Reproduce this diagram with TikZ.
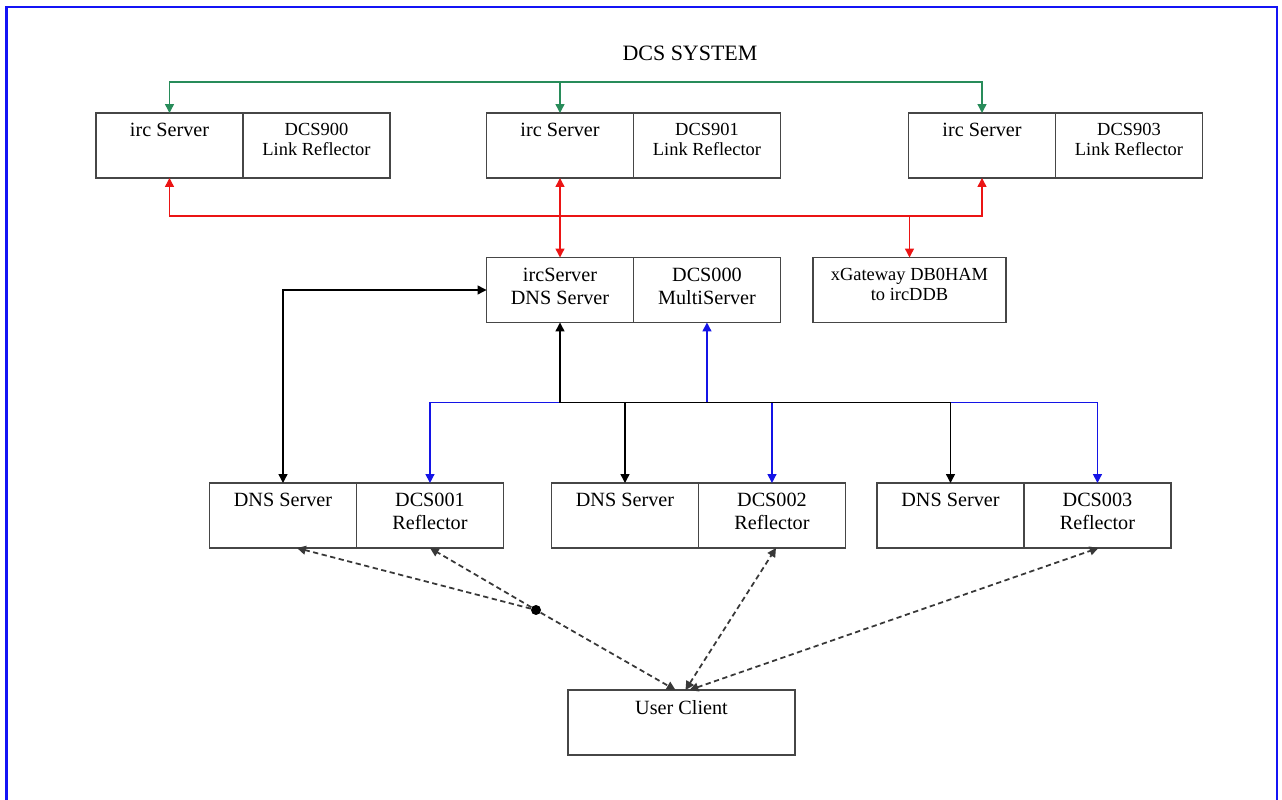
\documentclass[tikz,border=0pt]{standalone}
\usepackage{fontspec}
\setmainfont{Liberation Serif}
\usetikzlibrary{positioning, calc}
\usetikzlibrary{arrows.meta}

\definecolor{boxgray}{RGB}{70,70,70}
\definecolor{greenline}{RGB}{40,140,90}
\definecolor{redline}{RGB}{235,20,20}
\definecolor{blueline}{RGB}{20,20,230}
\definecolor{frameblue}{RGB}{20,20,245}

\begin{document}
\begin{tikzpicture}[
    x=0.02cm, y=-0.02cm,
    >={Triangle[length=5pt,width=5pt]},
    box/.style={draw=boxgray, line width=0.8pt, minimum width=2.94cm, minimum height=1.3cm, inner sep=0pt, outer sep=0pt},
    txt/.style={anchor=north, align=center, inner sep=0pt, yshift=-0.2cm, font=\fontsize{11.5}{13}\selectfont},
    smalltxt/.style={font=\fontsize{10.5}{11.5}\selectfont},
    cell/.style={box, label={[txt]north:{#1}}},
    lnkcell/.style={box, label={[txt,smalltxt]north:{#1}}},
    wire/.style={line width=0.8pt},
    clientlink/.style={line width=1pt, draw=boxgray!80!black, dash pattern=on 3pt off 2pt},
    hubdot/.style={circle, fill=black, inner sep=0pt, minimum size=0.2cm}
]
\useasboundingbox (0,0) rectangle (1282,800);

% frame
\draw[frameblue, line width=1.2pt] (6.5,800) -- (6.5,7) -- (1277,7) -- (1277,800);

\node[font=\fontsize{12.5}{14}\selectfont] (title) at (690,53) {DCS SYSTEM};

% link reflectors
\node[cell={irc Server}] (irc1) at (169.5,145.5) {};
\node[lnkcell={DCS900\\Link Reflector}, right=0pt of irc1] (lnk1) {};
\node[cell={irc Server}] (irc2) at (560,145.5) {};
\node[lnkcell={DCS901\\Link Reflector}, right=0pt of irc2] (lnk2) {};
\node[cell={irc Server}] (irc3) at (982,145.5) {};
\node[lnkcell={DCS903\\Link Reflector}, right=0pt of irc3] (lnk3) {};

% multiserver
\node[cell={ircServer\\DNS Server}] (dns0) at (560,290) {};
\node[cell={DCS000\\MultiServer}, right=0pt of dns0] (multi) {};
\node[box, minimum width=3.86cm, label={[txt,smalltxt]north:{xGateway DB0HAM\\to ircDDB}}] (xgw) at (909.5,290) {};

% reflectors
\node[cell={DNS Server}] (dnsA) at (283,515.5) {};
\node[cell={DCS001\\Reflector}, right=0pt of dnsA] (dcs1) {};
\node[cell={DNS Server}] (dnsB) at (625,515.5) {};
\node[cell={DCS002\\Reflector}, right=0pt of dnsB] (dcs2) {};
\node[cell={DNS Server}] (dnsC) at (950.5,515.5) {};
\node[cell={DCS003\\Reflector}, right=0pt of dnsC] (dcs3) {};

\node[cell={User Client}, minimum width=4.54cm] (user) at (681.5,722.5) {};
\node[hubdot] (hub) at (536,610) {};

% green
\coordinate (gbus) at ($(irc1.north)+(0,-31)$);
\draw[wire, greenline, <->] (irc1.north) -- (gbus) -| (irc3.north);
\draw[wire, greenline, ->] (irc2.north |- gbus) -- (irc2.north);

% red
\coordinate (rbus) at ($(irc1.south)+(0,38)$);
\draw[wire, redline, <->] (irc1.south) -- (rbus) -| (irc3.south);
\draw[wire, redline, <->] (irc2.south) -- (dns0.north);
\draw[wire, redline, ->] (xgw.north |- rbus) -- (xgw.north);

% dns
\draw[wire, <->] (dns0.west) -| (dnsA.north);

% bus
\coordinate (bus) at ($(dns0.south)+(0,80)$);
\draw[wire, blueline, <->] (dcs1.north) -- (dcs1.north |- bus) -- (dcs3.north |- bus) -- (dcs3.north);
\draw[wire, blueline, ->] (dcs2.north |- bus) -- (dcs2.north);
\draw[wire, blueline, ->] (multi.south |- bus) -- (multi.south);
\draw[wire, <->] (dns0.south) -- (dns0.south |- bus) -- (dnsC.north |- bus) -- (dnsC.north);
\draw[wire, ->] (dnsB.north |- bus) -- (dnsB.north);

% client
\draw[clientlink, ->] (hub) -- ($(dnsA.south)+(14,0)$);
\draw[clientlink, ->] (hub) -- (dcs1.south);
\draw[clientlink, ->] (hub) -- ($(user.north)+(-6,0)$);
\draw[clientlink, <->] ($(user.north)+(4,0)$) -- ($(dcs2.south)+(4,0)$);
\draw[clientlink, <->] ($(user.north)+(8,0)$) -- ($(dcs3.south)+(1,0)$);

\end{tikzpicture}
\end{document}
